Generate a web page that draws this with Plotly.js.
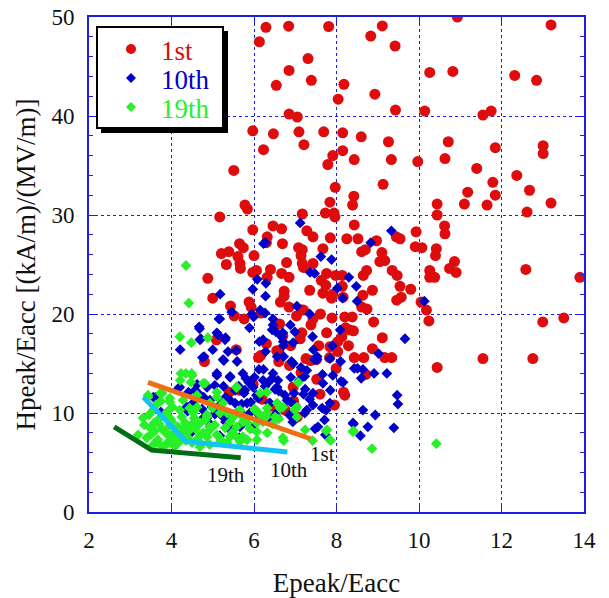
<!DOCTYPE html>
<html>
<head>
<meta charset="utf-8">
<script src="https://cdn.plot.ly/plotly-3.0.1.min.js"></script>
<style>html,body{margin:0;padding:0;background:#fff;}#chart{width:609px;height:598px;}</style>
</head>
<body>
<div id="chart"></div>
<script>
// ---- data: 1st (red circles) ----
const firstX = [6.29,6.84,7.81,9.11,10.93,13.2,6.13,8.83,9.42,7.31,6.85,6.54,7.39,10.26,10.82,12.32,12.85,8.18,8.04,8.93,6.85,7.05,9.43,10.14,11.55,11.75,5.97,6.47,7.09,7.69,8.15,8.6,7.21,9.26,10.71,11.85,13.01,13.01,6.23,7.91,8.15,5.51,7.79,8.43,9.33,9.97,10.63,11.4,12.37,9.13,7.97,11.79,12.68,11.18,8.42,11.85,7.84,5.78,5.84,8.39,11.1,10.44,11.65,13.2,5.17,7.17,7.73,7.94,7.96,10.44,12.62,8.43,10.62,5.97,6.46,6.67,9.93,10.63,6.32,7.28,7.43,7.85,8.25,8.52,8.97,9.45,9.54,5.65,5.74,6.3,6.69,5.21,5.39,6.0,7.08,7.17,7.67,8.61,8.7,9.1,9.91,10.07,10.42,5.61,10.4,5.33,5.66,6.79,7.17,7.43,7.14,9.05,9.17,10.86,10.9,10.74,12.59,13.9,5.67,6.4,5.97,6.06,6.67,6.85,7.2,7.76,7.98,8.14,9.35,9.47,9.54,9.8,10.26,10.26,10.38,8.65,8.73,4.88,6.32,7.63,7.74,8.14,6.73,6.73,7.35,7.67,7.91,8.87,7.88,8.16,8.64,9.57,9.46,5.0,5.88,5.93,6.64,7.15,6.85,8.61,8.74,5.43,10.05,10.18,10.24,13.51,13.0,5.76,5.52,6.17,7.03,7.2,7.43,7.61,7.89,8.2,8.38,8.9,6.62,7.38,8.22,8.31,8.41,7.16,7.76,8.13,6.7,8.03,9.11,5.09,7.12,6.89,7.57,7.84,8.29,6.3,8.87,6.55,5.57,6.6,6.16,6.11,6.6,7.26,7.37,7.51,7.83,8.03,8.43,8.66,9.17,9.34,11.55,12.76,4.8,6.86,7.99,10.44,8.71,7.14,7.52,8.17,8.2,5.98,6.96,7.95,6.42,6.27,5.65,6.2,6.95,7.6,5.4,6.75,7.05];
const firstY = [48.96,49.07,49.04,49.1,50.0,49.2,47.5,48.07,47.07,45.8,44.6,43.1,43.6,44.4,44.5,44.1,43.6,43.2,41.7,42.2,40.2,39.9,40.6,40.5,40.1,40.5,38.5,38.2,38.4,38.4,38.3,37.9,37.1,37.4,37.4,36.8,37.0,36.2,36.6,36.0,36.5,34.5,35.1,35.6,35.6,35.4,35.7,34.7,34.0,33.1,32.8,33.3,32.5,32.3,31.9,32.0,31.3,31.0,30.6,31.0,31.1,31.1,31.0,31.2,29.8,30.1,30.2,30.2,29.8,30.0,30.3,29.0,28.9,28.5,28.9,28.6,28.3,28.1,27.8,28.4,27.8,27.7,27.6,27.6,27.4,27.8,27.6,27.1,26.7,27.2,27.1,26.1,26.3,25.9,26.7,26.5,26.6,26.3,26.5,26.2,26.8,26.7,26.6,25.8,25.9,25.0,25.1,25.2,25.1,25.1,25.9,25.3,25.4,25.3,24.2,24.6,24.5,23.7,24.6,24.5,24.2,24.4,24.1,23.7,24.7,24.1,23.9,23.9,24.4,23.9,22.8,22.5,24.4,23.7,23.7,23.9,24.4,23.6,23.7,23.4,22.9,22.8,22.3,21.8,22.4,22.1,22.0,22.4,21.6,21.7,21.9,21.7,21.4,21.6,21.2,20.7,21.2,20.4,20.7,20.7,20.5,20.8,21.2,20.4,19.3,19.6,19.2,19.5,19.8,20.1,19.8,20.4,19.5,20.0,19.6,19.7,19.7,19.2,19.0,18.9,18.6,18.4,18.3,18.1,18.1,17.7,17.8,17.2,17.6,17.4,17.5,16.8,16.8,16.7,16.8,17.0,16.5,16.3,16.4,16.2,15.8,15.6,15.2,15.5,15.3,15.4,15.6,16.2,15.6,15.6,15.6,15.6,15.5,15.5,15.2,14.8,14.5,14.6,13.9,14.1,13.4,12.1,11.8,12.9,11.2,10.8,10.7,9.4,12.3,11.4,12.6,11.9,12.1,10.3,9.6];

// ---- data: 10th (blue diamonds) ----
const tenthX = [7.12,9.33,8.83,6.28,6.23,7.62,7.88,7.36,7.47,8.3,6.08,6.29,8.02,8.48,5.97,5.18,6.28,8.15,8.5,10.13,7.04,6.15,5.46,5.95,6.27,7.35,5.99,5.17,6.46,6.46,6.88,5.89,4.68,6.44,6.99,8.09,6.53,4.71,5.13,5.31,9.66,6.67,7.42,6.13,6.71,7.9,4.75,4.21,5.0,6.28,6.71,7.44,9.02,5.27,5.57,5.59,6.72,6.91,7.47,7.53,7.84,8.1,7.14,6.12,6.23,8.43,8.51,8.64,8.91,9.22,8.6,7.66,7.91,8.11,8.16,5.1,5.42,5.8,6.01,6.44,6.58,6.89,7.23,5.05,5.26,5.63,5.87,6.27,6.51,7.24,7.85,4.17,4.41,4.65,4.78,4.93,5.31,5.76,6.06,6.75,6.97,9.47,9.49,4.52,5.2,5.54,5.92,6.37,6.89,7.35,7.43,7.65,8.64,4.39,4.74,5.07,5.35,5.66,6.06,6.52,6.86,7.23,7.75,8.94,4.77,5.31,5.78,6.44,6.94,7.71,3.62,3.74,4.51,4.93,5.45,5.92,7.48,8.41,8.76,9.39,8.58,7.73,5.17,5.64,4.67,5.15,5.1,4.69,5.3,5.37,4.79,5.25,5.1,4.86,4.57,5.42,5.73,5.54,5.78,5.98,6.22,6.46,6.56,5.42,5.83,5.25,5.58,5.9,6.39,6.8,7.1,7.43,7.67,6.95,7.28,7.53,6.56,6.22,6.7,6.95,3.56,4.2,4.37,4.86,5.42,5.66,5.95,6.15,6.56,6.95,7.28,7.55,7.84,8.4,4.62,4.98,5.7,6.1,6.6,7.0,7.2,6.35,5.05,4.45];
const tenthY = [29.2,28.4,27.2,27.2,27.1,25.8,25.5,24.2,24.1,23.7,23.5,23.1,22.6,22.8,22.5,22.0,21.8,21.6,21.3,21.3,20.8,20.4,20.2,20.0,20.1,20.0,19.7,19.5,19.5,18.9,18.9,18.6,18.5,18.4,18.2,18.4,18.2,17.5,17.9,17.6,17.5,17.7,17.7,17.2,17.2,16.8,15.6,16.4,16.4,16.2,16.8,16.4,16.0,15.3,16.3,15.2,15.7,15.2,15.4,15.4,15.5,15.2,14.6,14.4,14.4,14.5,14.5,14.4,14.0,14.0,13.5,13.9,13.8,13.2,13.1,13.8,13.7,13.5,13.6,13.5,13.3,13.6,13.7,12.8,12.7,12.7,13.1,12.7,12.4,12.4,12.3,12.5,12.1,12.0,11.6,11.3,11.6,12.0,11.8,11.8,12.0,11.8,10.9,11.0,10.9,11.0,11.1,11.0,11.1,11.4,10.8,10.5,10.3,10.2,10.4,10.0,9.6,10.1,10.1,9.9,9.8,10.0,10.3,9.8,9.5,9.1,9.3,9.4,9.1,9.3,11.6,10.1,8.8,8.9,8.4,8.6,8.4,8.9,8.6,8.5,7.7,7.8,7.7,7.5,18.7,19.5,18.1,17.4,17.4,16.2,15.7,15.4,14.0,12.6,12.3,13.6,14.0,12.3,12.3,12.6,13.3,14.0,12.6,11.3,11.0,9.6,10.0,10.0,11.0,11.3,13.3,12.0,13.0,15.0,14.3,15.7,15.7,17.4,18.1,17.1,11.6,12.6,10.6,9.5,8.3,8.6,8.5,9.6,9.6,9.6,10.3,8.6,11.0,9.0,12.9,10.6,10.9,11.5,12.2,10.8,11.9,13.1,9.9,7.9];

// ---- data: 19th (green diamonds) ----
const nineteenthX = [4.35,4.42,4.2,4.48,4.88,4.23,4.49,4.21,4.47,4.81,5.57,7.07,6.31,3.73,3.43,10.42,8.86,8.41,7.86,7.42,7.75,6.72,7.0,6.6,6.06,6.29,5.73,3.77,3.96,5.58,6.15,6.56,6.32,6.02,6.7,7.04,6.51,6.07,5.73,6.32,6.7,6.07,7.24,7.77,7.84,8.4,7.04,5.83,5.42,5.18,4.86,4.69,4.93,4.69,4.86,4.62,5.1,5.35,5.58,
  4.35,4.5,4.77,3.77,3.43,3.96,4.28,4.62,5.1,5.58,4.93,5.25,3.56,3.89,4.2,4.52,4.86,5.18,5.66,6.02,6.31,6.63,6.99,3.31,3.67,4.01,4.33,4.69,5.05,5.42,5.83,6.22,3.48,3.79,4.08,4.4,4.77,5.1,5.47,5.73,6.07,3.19,3.4,3.67,3.92,4.2,4.5,4.69,4.93,5.35,5.66,3.56,3.79,4.08,
  3.45,3.62,3.7,3.84,3.95,4.02,4.15,4.25,4.38,4.44,4.58,4.63,3.52,3.86,4.12,3.74,3.58,3.34,3.98,4.3,4.55,4.82,5.0,5.3,5.5,3.66,3.9,4.35,4.7,5.2,5.55,5.9,6.15,6.45,6.6,3.6,3.95,4.05,4.22,4.48,4.92];
const nineteenthY = [24.9,21.1,17.7,17.1,17.6,14.0,14.0,13.3,13.1,13.0,12.6,13.1,12.1,12.0,11.6,6.9,6.4,8.2,7.2,7.2,8.2,7.2,10.4,10.8,10.2,9.6,9.6,12.0,11.5,12.6,12.0,11.0,10.5,10.4,10.6,10.6,9.6,9.0,9.1,8.0,7.5,8.1,8.3,8.3,7.3,8.1,9.6,7.3,7.6,7.1,7.6,7.0,8.3,9.0,9.6,10.6,11.6,10.0,8.6,
  14.0,13.8,13.0,12.0,11.8,11.1,11.3,11.8,12.1,12.6,11.0,11.0,10.3,10.1,10.3,10.0,9.8,10.0,10.3,10.3,10.0,10.5,10.3,9.5,9.3,9.1,9.0,9.0,8.8,9.1,9.0,9.1,8.5,8.3,8.1,8.1,8.0,7.8,8.0,7.6,7.3,7.8,7.5,7.3,7.1,7.1,7.0,6.6,6.8,7.0,7.1,6.8,6.6,6.6,
  9.8,10.8,8.9,9.7,7.7,10.6,8.6,9.6,7.6,10.5,8.4,7.4,7.9,8.0,7.5,11.2,9.0,8.8,9.4,8.5,9.5,9.3,10.5,8.5,9.6,7.0,6.9,7.2,7.8,7.3,7.7,8.4,9.8,8.9,9.4,8.2,8.7,7.2,8.0,8.8,8.6];

// ---- reference lines ----
const line1X = [3.43, 7.37];
const line1Y = [13.1, 7.4];
const line10X = [3.32, 4.35, 6.81];
const line10Y = [11.6, 7.13, 6.05];
const line19X = [2.61, 3.52, 5.68];
const line19Y = [8.6, 6.25, 5.47];

const seriesNames = ['1st', '10th', '19th'];
const labelPos = {x: [7.66, 6.86, 5.33], y: [5.9, 4.2, 3.7], text: ['1st', '10th', '19th']};

const FONT = 'Liberation Serif, Times New Roman, serif';
const BLUE = 'rgb(30,30,225)';
const RED = 'rgb(222,12,12)';
const DBLUE = 'rgb(0,0,200)';
const GREEN = 'rgb(40,240,40)';
const seriesColors = [RED, DBLUE, GREEN];

const traces = [
  {x: firstX, y: firstY, type: 'scatter', mode: 'markers', name: seriesNames[0],
   marker: {symbol: 'circle', size: 11, color: RED}},
  {x: tenthX, y: tenthY, type: 'scatter', mode: 'markers', name: seriesNames[1],
   marker: {symbol: 'diamond', size: 8.3, color: DBLUE}},
  {x: nineteenthX, y: nineteenthY, type: 'scatter', mode: 'markers', name: seriesNames[2],
   marker: {symbol: 'diamond', size: 8.3, color: GREEN}},
  {x: line1X, y: line1Y, type: 'scatter', mode: 'lines', line: {color: 'rgb(240,110,20)', width: 5}},
  {x: line10X, y: line10Y, type: 'scatter', mode: 'lines', line: {color: 'rgb(20,195,245)', width: 5}},
  {x: line19X, y: line19Y, type: 'scatter', mode: 'lines', line: {color: 'rgb(0,110,20)', width: 5}}
];

// pixel -> paper helpers (plot area 89..584 x 17..512)
const PX = p => (p - 89) / 495;
const PY = p => (512 - p) / 495;

const annotations = labelPos.text.map((t, i) => ({
  x: labelPos.x[i], y: labelPos.y[i], xref: 'x', yref: 'y', text: t, showarrow: false,
  font: {family: FONT, size: 21, color: '#111'}
}));
// legend text
const legendRowsY = [51, 80, 109];
seriesNames.forEach((n, i) => annotations.push({
  x: PX(159), y: PY(legendRowsY[i]), xref: 'paper', yref: 'paper', xanchor: 'left', yanchor: 'middle',
  text: n, showarrow: false, font: {family: FONT, size: 27, color: seriesColors[i]}
}));

function diamondPath(cx, cy, r) {
  return 'M' + PX(cx - r) + ',' + PY(cy) + ' L' + PX(cx) + ',' + PY(cy - r) + ' L' + PX(cx + r) + ',' + PY(cy) +
         ' L' + PX(cx) + ',' + PY(cy + r) + ' Z';
}

const shapes = [
  {type: 'rect', xref: 'paper', yref: 'paper', layer: 'above', x0: PX(101), x1: PX(228), y0: PY(133), y1: PY(31),
   fillcolor: '#000', line: {width: 0}},
  {type: 'rect', xref: 'paper', yref: 'paper', layer: 'above', x0: PX(97), x1: PX(223), y0: PY(128), y1: PY(27),
   fillcolor: '#fff', line: {width: 2, color: '#000'}},
  {type: 'circle', xref: 'paper', yref: 'paper', layer: 'above', x0: PX(126), x1: PX(136), y0: PY(54), y1: PY(44),
   fillcolor: RED, line: {width: 0}},
  {type: 'path', xref: 'paper', yref: 'paper', layer: 'above', path: diamondPath(131, 78, 5),
   fillcolor: DBLUE, line: {width: 0}},
  {type: 'path', xref: 'paper', yref: 'paper', layer: 'above', path: diamondPath(131, 107, 5),
   fillcolor: GREEN, line: {width: 0}}
];

const axisCommon = {
  showgrid: true, gridcolor: BLUE, griddash: 'dot', gridwidth: 1,
  showline: true, linecolor: BLUE, linewidth: 2, mirror: 'allticks',
  ticks: 'inside', ticklen: 7, tickcolor: BLUE, tickwidth: 1,
  zeroline: false, tickfont: {family: FONT, size: 23, color: '#111'}
};

const layout = {
  width: 609, height: 598,
  margin: {l: 89, r: 25, t: 17, b: 86},
  paper_bgcolor: '#fff', plot_bgcolor: '#fff',
  showlegend: false,
  xaxis: Object.assign({}, axisCommon, {range: [2, 14], tick0: 2, dtick: 2, ticklabelstandoff: 6,
    title: {text: 'Epeak/Eacc', font: {family: FONT, size: 27, color: '#111'}, standoff: 27}}),
  yaxis: Object.assign({}, axisCommon, {range: [0, 50], tick0: 0, dtick: 10, ticklabelstandoff: 8,
    minor: {dtick: 2, ticks: 'inside', ticklen: 4, tickcolor: BLUE, showgrid: false},
    title: {text: 'Hpeak/Eacc [(kA/m)/(MV/m)]', font: {family: FONT, size: 27, color: '#111'}, standoff: 8}}),
  annotations: annotations,
  shapes: shapes
};

Plotly.newPlot('chart', traces, layout, {displayModeBar: false, staticPlot: true});
</script>
</body>
</html>
